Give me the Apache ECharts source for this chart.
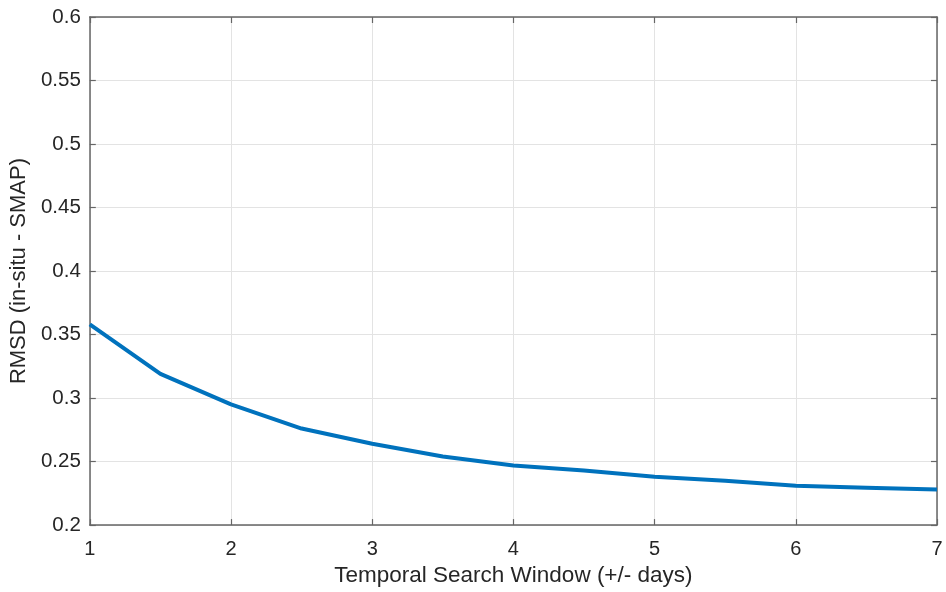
<!DOCTYPE html>
<html>
<head>
<meta charset="utf-8">
<script src="https://cdn.jsdelivr.net/npm/echarts@6/dist/echarts.min.js"></script>
<style>
  html, body { margin: 0; padding: 0; background: #fff; }
  #chart { width: 946px; height: 592px; }
</style>
</head>
<body>
<div id="chart"></div>
<script>
// Search window half-width (days) and the resulting RMSD
const windowDays = [1, 1.5, 2, 2.5, 3, 3.5, 4, 4.5, 5, 5.5, 6, 6.5, 7];
const rmsd = [0.358, 0.319, 0.295, 0.276, 0.264, 0.254, 0.247, 0.243, 0.238, 0.235, 0.231, 0.2295, 0.228];

const xTitle = 'Temporal Search Window (+/- days)';
const yTitle = 'RMSD (in-situ - SMAP)';

const axisColor = '#666666';
const textColor = '#262626';
const gridColor = '#e3e3e3';
const font = 'Liberation Sans, Arial, sans-serif';

const chart = echarts.init(document.getElementById('chart'));

const commonX = {
  type: 'value', min: 1, max: 7, interval: 1,
  axisLine: { show: true, lineStyle: { color: axisColor, width: 1.5 } },
  axisTick: { show: true, inside: true, length: 6, lineStyle: { color: axisColor, width: 1.2 } }
};
const commonY = {
  type: 'value', min: 0.2, max: 0.6, interval: 0.05,
  axisLine: { show: true, lineStyle: { color: axisColor, width: 1.5 } },
  axisTick: { show: true, inside: true, length: 6, lineStyle: { color: axisColor, width: 1.2 } }
};

chart.setOption({
  animation: false,
  backgroundColor: '#ffffff',
  grid: { left: 89, right: 9, top: 17, bottom: 66, containLabel: false },
  xAxis: [
    Object.assign({}, commonX, {
      position: 'bottom',
      name: xTitle, nameLocation: 'middle', nameGap: 32,
      nameTextStyle: { color: textColor, fontSize: 22.5, fontFamily: font },
      axisLabel: { color: textColor, fontSize: 20, fontFamily: font, margin: 14 },
      splitLine: { show: true, lineStyle: { color: gridColor, width: 1 } }
    }),
    Object.assign({}, commonX, {
      position: 'top',
      axisLabel: { show: false },
      splitLine: { show: false }
    })
  ],
  yAxis: [
    Object.assign({}, commonY, {
      position: 'left',
      name: yTitle, nameLocation: 'middle', nameGap: 55,
      nameTextStyle: { color: textColor, fontSize: 22, fontFamily: font },
      axisLabel: {
        color: textColor, fontSize: 20.5, fontFamily: font, margin: 9,
        formatter: v => String(parseFloat(v.toFixed(2)))
      },
      splitLine: { show: true, lineStyle: { color: gridColor, width: 1 } }
    }),
    Object.assign({}, commonY, {
      position: 'right',
      axisLabel: { show: false },
      splitLine: { show: false }
    })
  ],
  series: [{
    type: 'line',
    data: windowDays.map((d, i) => [d, rmsd[i]]),
    showSymbol: false,
    lineStyle: { color: '#0072BD', width: 4 },
    xAxisIndex: 0, yAxisIndex: 0,
    z: 5
  }]
});
</script>
</body>
</html>
